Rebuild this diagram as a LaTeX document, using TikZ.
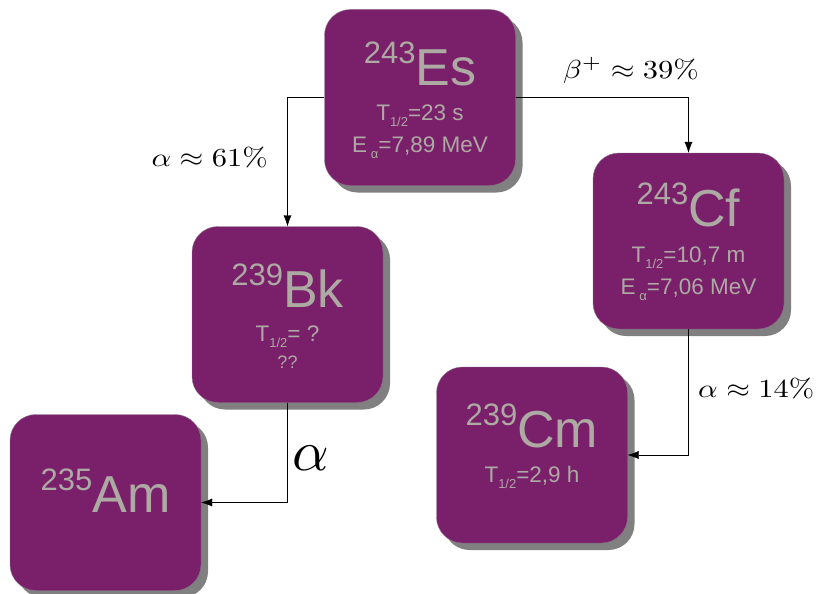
\documentclass[tikz,border=0pt]{standalone}
\usepackage{graphicx}
\usepackage{fontspec}
\setsansfont{Liberation Sans}
\usepackage{tikz}
\usetikzlibrary{arrows.meta,shadows}
\definecolor{NucPurple}{HTML}{7A206B}
\definecolor{NucText}{HTML}{ADA9A3}
\definecolor{NucShadow}{HTML}{808080}
\definecolor{NucEdge}{HTML}{8C7088}
\newcommand{\lowsub}[1]{\raisebox{-6pt}{\fontsize{13}{13}\selectfont #1}}
\newcommand{\massno}[1]{\raisebox{22pt}{\fontsize{31}{31}\selectfont #1}}

\begin{document}
\begin{tikzpicture}[x=1pt,y=-1pt,>={Latex[length=11pt,width=8pt]}]
  \tikzstyle{nuc}=[draw=NucEdge,fill=NucPurple,rounded corners=26pt,
    minimum width=191pt,minimum height=176pt,inner sep=0pt,
    drop shadow={shadow xshift=7pt,shadow yshift=-7pt,fill=NucShadow,opacity=1}]
  \tikzstyle{sym}=[text=NucText,inner sep=0pt,anchor=base,
    font=\sffamily\fontsize{52}{52}\selectfont]
  \tikzstyle{info}=[text=NucText,inner sep=0pt,anchor=base,
    font=\sffamily\fontsize{22.5}{22.5}\selectfont]
  \tikzstyle{lbl}=[inner sep=0pt]
  \useasboundingbox (0,0) rectangle (827,594);
  % nuclei
  \node[nuc] (es) at (420,97.5) {};
  \node[nuc] (cf) at (688.5,241) {};
  \node[nuc] (bk) at (287.5,314.5) {};
  \node[nuc] (cm) at (532,455) {};
  \node[nuc] (am) at (105.5,502.5) {};
  \node[sym] (esSym) at ([yshift=-76pt]es.north) {\massno{243}Es};
  \node[info] (esT) at ([yshift=-111pt]es.north) {T\lowsub{1/2}=23 s};
  \node[info] (esE) at ([yshift=-143pt]es.north) {E\,\lowsub{α}=7,89 MeV};
  \node[sym] (cfSym) at ([yshift=-74pt]cf.north) {\massno{243}Cf};
  \node[info] (cfT) at ([yshift=-110pt]cf.north) {T\lowsub{1/2}=10,7 m};
  \node[info] (cfE) at ([yshift=-142pt]cf.north) {E\,\lowsub{α}=7,06 MeV};
  \node[sym] (bkSym) at ([yshift=-81pt]bk.north) {\massno{239}Bk};
  \node[info] (bkT) at ([yshift=-115pt]bk.north) {T\lowsub{1/2}= ?};
  \node[info,font=\sffamily\fontsize{18}{18}\selectfont] (bkQ) at ([yshift=-142pt]bk.north) {??};
  \node[sym] (cmSym) at ([yshift=-81pt]cm.north) {\massno{239}Cm};
  \node[info] (cmT) at ([yshift=-116pt]cm.north) {T\lowsub{1/2}=2,9 h};
  \node[sym] (amSym) at ([yshift=-98pt]am.north) {\massno{235}Am};
  % decays
  \draw[->] (es.west) -| (bk.north);
  \draw[->] (es.east) -| (cf.north);
  \draw[->] (bk.south) |- (am.east);
  \draw[->] (cf.south) |- (cm.east);
  \node[lbl,anchor=base east] (aBk) at (268,166) {\scalebox{3.05}[2.6]{$\alpha\approx61\%$}};
  \node[lbl,anchor=base west] (bCf) at (563,78) {\scalebox{3.05}[2.6]{$\beta^+\approx39\%$}};
  \node[lbl,anchor=base] (aAm) at (311,470) {\scalebox{5.7}{$\alpha$}};
  \node[lbl,anchor=base west] (aCm) at (698,397) {\scalebox{3.05}[2.6]{$\alpha\approx14\%$}};
\end{tikzpicture}
\end{document}
